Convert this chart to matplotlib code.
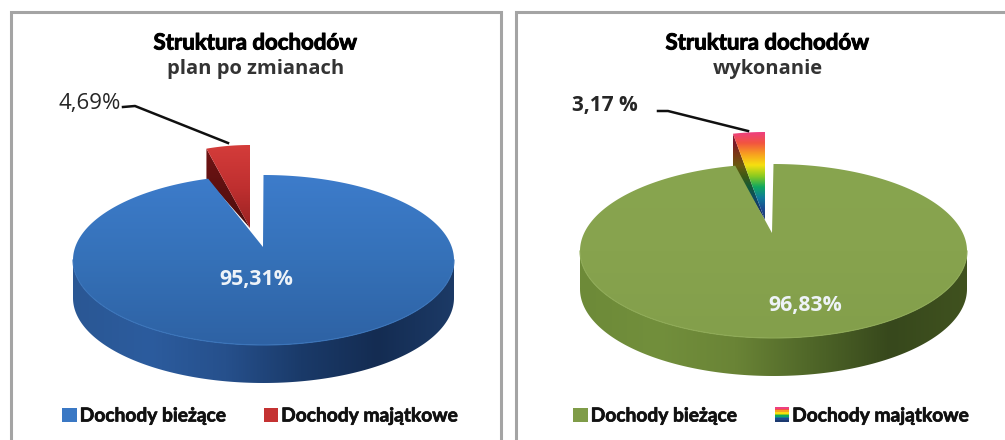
import numpy as np
import matplotlib
matplotlib.use("Agg")
import matplotlib.pyplot as plt
from matplotlib.colors import LinearSegmentedColormap
from matplotlib.legend_handler import HandlerBase
from matplotlib.patches import Patch, Polygon, Rectangle
import matplotlib.patheffects as pe

W, H = 1005, 440

# ---- data ----
categories = ["Dochody bieżące", "Dochody majątkowe"]
plan_values = [95.31, 4.69]
exec_values = [96.83, 3.17]
plan_labels = ["95,31%", "4,69%"]
exec_labels = ["96,83%", "3,17 %"]
main_title = "Struktura dochodów"
plan_subtitle = "plan po zmianach"
exec_subtitle = "wykonanie"

RAINBOW = ["#ee3f80", "#f2553f", "#f8a020", "#f6e010", "#8ccb20", "#10a860", "#107a9a", "#1c4a90", "#1c3a70"]
DARK_RAINBOW = ["#7a1a38", "#7a1a28", "#7a3a14", "#6a5a10", "#3c5a14", "#125a3a", "#0e4a64", "#143468", "#1c3a70"]

plt.rcParams["font.family"] = ["Lato", "DejaVu Sans"]
fig = plt.figure(figsize=(W / 100, H / 100), dpi=100, facecolor="white")


def grad(ax, verts, colors, vertical=True, z=2):
    verts = np.asarray(verts)
    x0, y0 = verts.min(axis=0)
    x1, y1 = verts.max(axis=0)
    cmap = LinearSegmentedColormap.from_list("g", colors)
    ramp = np.linspace(0, 1, 256)
    arr = ramp[:, None] if vertical else ramp[None, :]
    im = ax.imshow(arr, cmap=cmap, extent=(x0, x1, y1, y0), origin="upper",
                   aspect="auto", zorder=z, interpolation="bilinear")
    clip = Polygon(verts, closed=True, transform=ax.transData)
    im.set_clip_path(clip)


def point(c, rx, ry, a):
    # a: degrees clockwise from 12 o'clock
    r = np.radians(a)
    return np.column_stack([c[0] + rx * np.sin(r), c[1] - ry * np.cos(r)])


class RainbowHandler(HandlerBase):
    def create_artists(self, legend, orig, xd, yd, w, h, fs, trans):
        s = min(w, h)
        n = len(RAINBOW)
        return [Rectangle((xd * -1 + w - s, -yd + s * (n - 1 - i) / n), s, s / n + 0.3,
                          facecolor=RAINBOW[i], edgecolor="none", transform=trans)
                for i in range(n)]


def draw_panel(ax, g):
    x0, x1 = g["xlim"]
    ax.set_xlim(x0, x1)
    ax.set_ylim(H, 0)
    ax.axis("off")

    # frame
    fx0, fx1 = g["frame"]
    ax.plot([fx0, fx0, fx1, fx1], [H + 5, 12, 12, H + 5], color="#a4a4a4", lw=2.2, zorder=1,
            solid_joinstyle="miter")

    values = g["values"]
    small_angle = 360 * values[1] / sum(values)
    c, rx, ry, depth, apex = g["c"], g["rx"], g["ry"], g["depth"], g["apex"]

    # exploded small slice
    sc, srx, sapex = g["s_c"], g["s_rx"], g["s_apex"]
    arc = point(sc, srx, ry, np.linspace(-small_angle, 0, 30))
    left = arc[0]
    wall = [tuple(left), (left[0], left[1] + g["s_wall"]), sapex]
    grad(ax, wall, g["wall_colors"], z=2)
    face = np.vstack([[sapex], arc])
    grad(ax, face, g["slice_colors"], z=3)

    # side wall of the main pie
    front = point(c, rx, ry, np.linspace(90, 270, 181))
    side = np.vstack([front, (front + [0, depth])[::-1]])
    grad(ax, side, g["side_colors"], vertical=False, z=4)

    # top face of the main pie
    arc = point(c, rx, ry, np.linspace(0, 360 - small_angle, 361))
    top = np.vstack([[apex], arc])
    grad(ax, top, g["top_colors"], z=5)
    ax.plot(front[:, 0], front[:, 1], color=g["rim"], lw=0.8, zorder=6)

    # labels
    ax.text(*g["big_xy"], g["labels"][0], color="#eef3f8", fontsize=15.3, fontweight="bold",
            family=["Open Sans", "DejaVu Sans"], ha="center", va="center", zorder=7)
    ax.text(*g["small_xy"], g["labels"][1], color="#262626", fontsize=g["small_fs"], fontweight=g["small_w"],
            family=["Open Sans", "DejaVu Sans"], ha="center", va="center", zorder=7)
    lead = np.array(g["leader"])
    ax.plot(lead[:, 0], lead[:, 1], color="#101010", lw=1.8, zorder=7)

    # titles
    ax.text(g["tx"], 43, main_title, fontsize=16, fontweight="bold", color="black", ha="center",
            va="center", zorder=7, path_effects=[pe.withStroke(linewidth=0.7, foreground="black")])
    ax.text(g["tx"], 69, g["subtitle"], fontsize=14.5, fontweight="bold", color="#333333",
            family=["Open Sans", "DejaVu Sans"], ha="center", va="center", zorder=7)

    # legend
    if g["rainbow"]:
        handles = [Patch(facecolor=g["leg"][0], label=categories[0]), Patch(label=categories[1])]
        hmap = {handles[1]: RainbowHandler()}
    else:
        handles = [Patch(facecolor=g["leg"][0], label=categories[0]),
                   Patch(facecolor=g["leg"][1], label=categories[1])]
        hmap = {}
    leg = ax.legend(handles=handles, handler_map=hmap, ncol=2, frameon=False,
                    loc="center", bbox_to_anchor=g["leg_xy"], bbox_transform=ax.transData,
                    fontsize=13.8, handlelength=0.75, handleheight=0.75, handletextpad=0.15,
                    columnspacing=2.0, borderpad=0, labelspacing=0)
    for t in leg.get_texts():
        t.set_fontweight("bold")
        t.set_color("#111111")
        t.set_path_effects([pe.withStroke(linewidth=0.5, foreground="#111111")])


ax1 = fig.add_axes([0, 0, 508 / W, 1])
ax2 = fig.add_axes([508 / W, 0, 497 / W, 1])

draw_panel(ax1, dict(
    xlim=(0, 508), frame=(11, 501), values=plan_values, labels=plan_labels,
    c=(263.5, 260), rx=190.5, ry=85, depth=38, apex=(263, 247),
    s_c=(250, 230), s_rx=150, s_apex=(250, 228), s_wall=30,
    top_colors=["#3d7ccb", "#3571b8", "#2e62a4"],
    side_colors=["#2a5794", "#2c5c9e", "#26508c", "#1a3a69", "#142c52", "#1c3a66"],
    slice_colors=["#d43c3a", "#c03030", "#9a2222"],
    wall_colors=["#701414", "#4c0c0c"],
    rim="#3a74ba",
    big_xy=(256, 280), small_xy=(90, 103), small_w="normal", small_fs=16,
    leader=[(123, 107), (135, 106), (228, 143)],
    tx=255.5, subtitle=plan_subtitle, rainbow=False,
    leg=["#3a78c4", "#c43232"], leg_xy=(260, 416),
))
draw_panel(ax2, dict(
    xlim=(508, 1005), frame=(516, 1012), values=exec_values, labels=exec_labels,
    c=(773.5, 251), rx=193.5, ry=87, depth=38, apex=(772, 233),
    s_c=(765, 219), s_rx=162, s_apex=(765, 220), s_wall=32,
    top_colors=["#88a54f", "#87a34e", "#839f4b"],
    side_colors=["#6d8a38", "#728f3c", "#6a8436", "#4f6628", "#37481c", "#40521f"],
    slice_colors=RAINBOW,
    wall_colors=DARK_RAINBOW,
    rim="#8eaa56",
    big_xy=(805, 306), small_xy=(605, 106), small_w="bold", small_fs=15,
    leader=[(658, 111), (668, 111), (748, 131)],
    tx=767.5, subtitle=exec_subtitle, rainbow=True,
    leg=["#7f9c48", None], leg_xy=(771, 416),
))

fig.savefig("out.png", dpi=100, facecolor="white")
